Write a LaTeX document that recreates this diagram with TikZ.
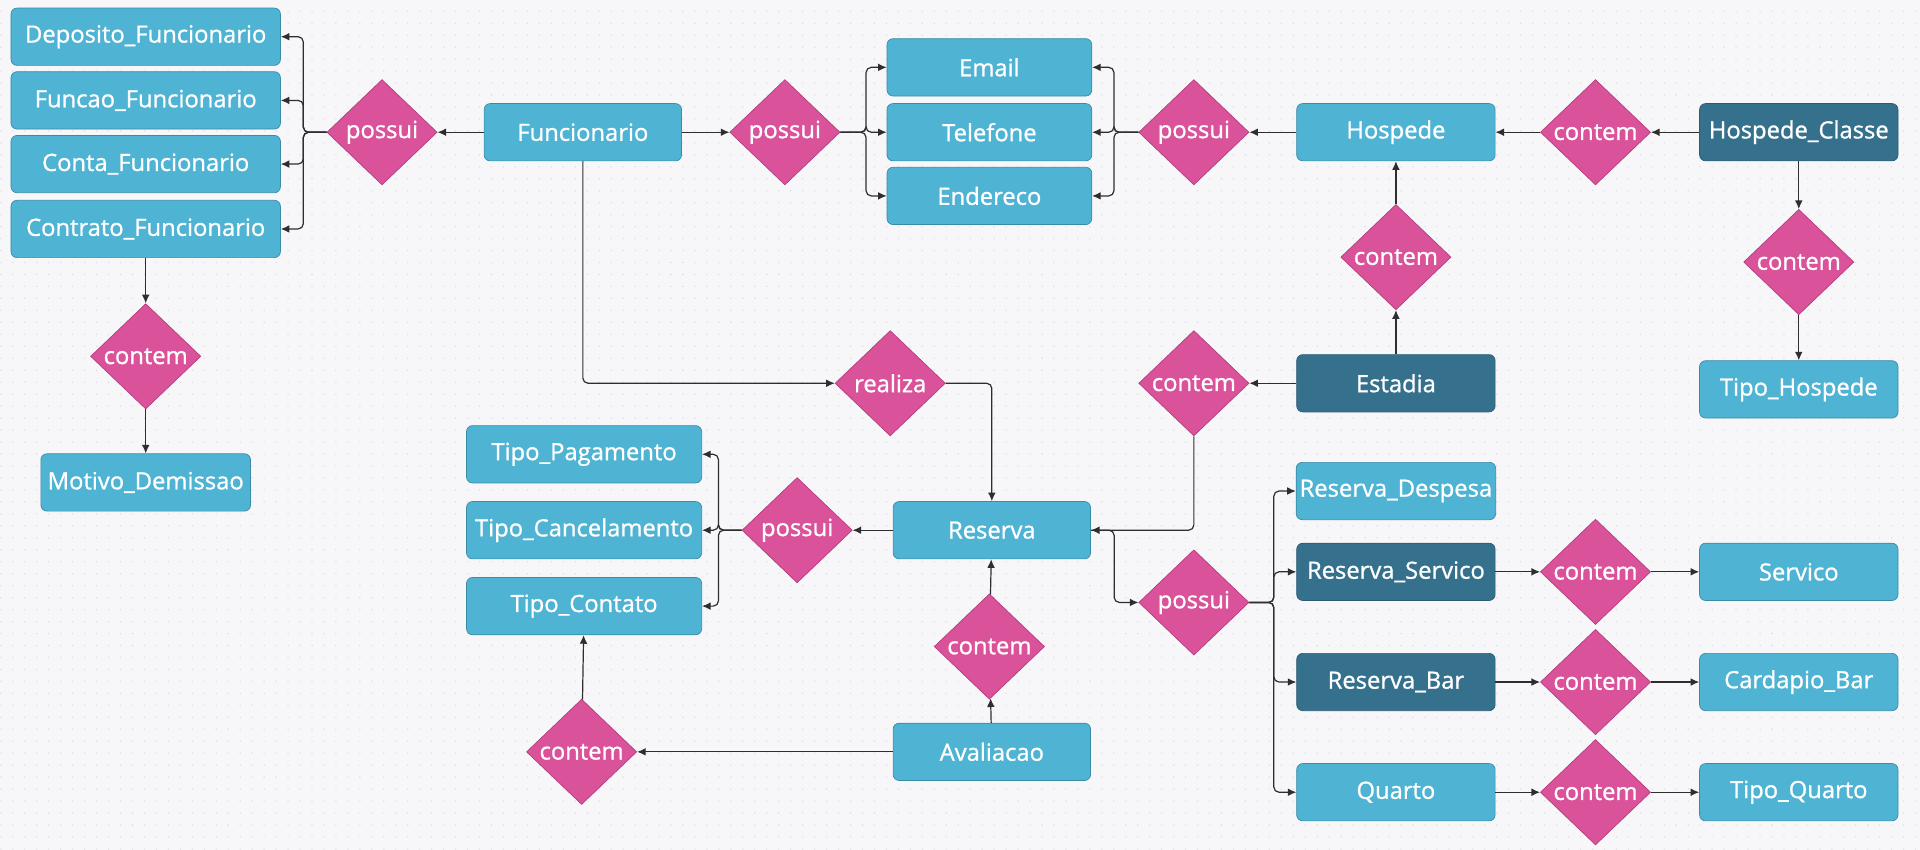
\documentclass[tikz,border=0pt]{standalone}
\usepackage{fontspec}
\setmainfont{Open Sans}[FakeBold=1]
\usetikzlibrary{shapes.geometric, arrows.meta, patterns}
\definecolor{entfill}{HTML}{4FB3D3}
\definecolor{entline}{HTML}{3A8BA6}
\definecolor{darkfill}{HTML}{35718D}
\definecolor{darkline}{HTML}{2B5C73}
\definecolor{relfill}{HTML}{D9529A}
\definecolor{relline}{HTML}{B23E7C}
\definecolor{bgfill}{HTML}{F7F7FA}
\definecolor{bgdot}{HTML}{DCDCE4}
\definecolor{linecol}{HTML}{2E2E2E}
\pgfdeclarepatternformonly{bgdots}{\pgfqpoint{0pt}{0pt}}{\pgfqpoint{1pt}{1pt}}{\pgfqpoint{6.95pt}{6.95pt}}{%
  \pgfpathcircle{\pgfqpoint{0.5pt}{0.5pt}}{0.45pt}\pgfusepath{fill}}

\begin{document}
\begin{tikzpicture}
  [x=0.025cm, y=-0.025cm,
  font=\fontsize{13.8}{16}\selectfont,
  ent/.style={rectangle, rounded corners=3.5pt, draw=entline, fill=entfill, text=white,
              minimum height=1.17cm, inner sep=2pt},
  entd/.style={ent, draw=darkline, fill=darkfill},
  rel/.style={diamond, draw=relline, fill=relfill, text=white, inner sep=0pt,
              minimum width=2.25cm, minimum height=2.15cm},
  conn/.style={-{Latex[length=5pt,width=4.5pt]}, draw=linecol, line width=0.7pt},
  brk/.style={conn, rounded corners=3pt}]
  % background
  \fill[bgfill] (0,0) rectangle (1568,694);
  \fill[pattern=bgdots, pattern color=bgdot] (0,0) rectangle (1568,694);
  % entities
  \node[ent, minimum width=5.5cm]   (dep)    at (119,30)  {Deposito\_Funcionario};
  \node[ent, minimum width=5.5cm]   (fnc)    at (119,82)  {Funcao\_Funcionario};
  \node[ent, minimum width=5.5cm]   (cta)    at (119,134) {Conta\_Funcionario};
  \node[ent, minimum width=5.5cm]   (ctr)    at (119,187) {Contrato\_Funcionario};
  \node[ent, minimum width=4.28cm]  (motivo) at (119,394) {Motivo\_Demissao};
  \node[ent, minimum width=4.03cm]  (fun)    at (476,108) {Funcionario};
  \node[ent, minimum width=4.18cm]  (email)  at (808,55)  {Email};
  \node[ent, minimum width=4.18cm]  (tel)    at (808,108) {Telefone};
  \node[ent, minimum width=4.18cm]  (ende)   at (808,160) {Endereco};
  \node[ent, minimum width=4.05cm]  (hosp)   at (1140,108) {Hospede};
  \node[entd, minimum width=4.05cm] (hcl)    at (1469,108) {Hospede\_Classe};
  \node[ent, minimum width=4.05cm]  (thosp)  at (1469,318) {Tipo\_Hospede};
  \node[entd, minimum width=4.05cm] (est)    at (1140,313) {Estadia};
  \node[ent, minimum width=4.03cm]  (res)    at (810,433) {Reserva};
  \node[ent, minimum width=4.8cm]   (tpag)   at (477,371) {Tipo\_Pagamento};
  \node[ent, minimum width=4.8cm]   (tcan)   at (477,433) {Tipo\_Cancelamento};
  \node[ent, minimum width=4.8cm]   (tcon)   at (477,495) {Tipo\_Contato};
  \node[ent, minimum width=4.03cm]  (aval)   at (810,614) {Avaliacao};
  \node[ent, minimum width=4.05cm]  (rdesp)  at (1140,401) {Reserva\_Despesa};
  \node[entd, minimum width=4.05cm] (rserv)  at (1140,467) {Reserva\_Servico};
  \node[entd, minimum width=4.05cm] (rbar)   at (1140,557) {Reserva\_Bar};
  \node[ent, minimum width=4.05cm]  (quarto) at (1140,647) {Quarto};
  \node[ent, minimum width=4.05cm]  (serv)   at (1469,467) {Servico};
  \node[ent, minimum width=4.05cm]  (card)   at (1469,557) {Cardapio\_Bar};
  \node[ent, minimum width=4.05cm]  (tquar)  at (1469,647) {Tipo\_Quarto};
  % relationships
  \node[rel] (pos1)  at (312,108)  {possui};
  \node[rel] (con1)  at (119,291)  {contem};
  \node[rel] (pos2)  at (641,108)  {possui};
  \node[rel] (pos3)  at (975,108)  {possui};
  \node[rel] (con2)  at (1303,108) {contem};
  \node[rel] (con3)  at (1469,214) {contem};
  \node[rel] (con4)  at (1140,210) {contem};
  \node[rel] (con5)  at (975,313)  {contem};
  \node[rel] (real)  at (727,313)  {realiza};
  \node[rel] (pos4)  at (651,433)  {possui};
  \node[rel] (con6)  at (808,528)  {contem};
  \node[rel] (con7)  at (475,614)  {contem};
  \node[rel] (pos5)  at (975,492)  {possui};
  \node[rel] (con8)  at (1303,467) {contem};
  \node[rel] (con9)  at (1303,557) {contem};
  \node[rel] (con10) at (1303,647) {contem};
  % connectors
  \draw[conn] (fun) -- (pos1);
  \foreach \t in {dep, fnc, cta, ctr}
    \draw[brk] (pos1.west) -- ++(-19,0) |- (\t);
  \draw[conn] (ctr) -- (con1);
  \draw[conn] (con1) -- (motivo);
  \draw[conn] (fun) -- (pos2);
  \draw[conn] (hosp) -- (pos3);
  \foreach \t in {email, tel, ende} {
    \draw[brk] (pos2.east) -- ++(21,0) |- (\t);
    \draw[brk] (pos3.west) -- ++(-20,0) |- (\t);
  }
  \draw[conn] (hcl) -- (con2);
  \draw[conn] (con2) -- (hosp);
  \draw[conn] (hcl) -- (con3);
  \draw[conn] (con3) -- (thosp);
  \draw[conn] (est) -- (con4);
  \draw[conn] (con4) -- (hosp);
  \draw[conn] (est) -- (con5);
  \draw[brk] (con5.south) |- (res.east);
  \draw[brk] (fun.south) |- (real.west);
  \draw[brk] (real.east) -| (res.north);
  \draw[conn] (res) -- (pos4);
  \foreach \t in {tpag, tcan, tcon}
    \draw[brk] (pos4.west) -- ++(-19,0) |- (\t);
  \draw[conn] (aval) -- (con6);
  \draw[conn] (con6) -- (res);
  \draw[conn] (aval) -- (con7);
  \draw[conn] (con7) -- (tcon);
  \draw[brk] (res.east) -- ++(19,0) |- (pos5.west);
  \foreach \t in {rdesp, rserv, rbar, quarto}
    \draw[brk] (pos5.east) -- ++(20,0) |- (\t);
  \draw[conn] (rserv) -- (con8);
  \draw[conn] (con8) -- (serv);
  \draw[conn] (rbar) -- (con9);
  \draw[conn] (con9) -- (card);
  \draw[conn] (quarto) -- (con10);
  \draw[conn] (con10) -- (tquar);
\end{tikzpicture}
\end{document}
